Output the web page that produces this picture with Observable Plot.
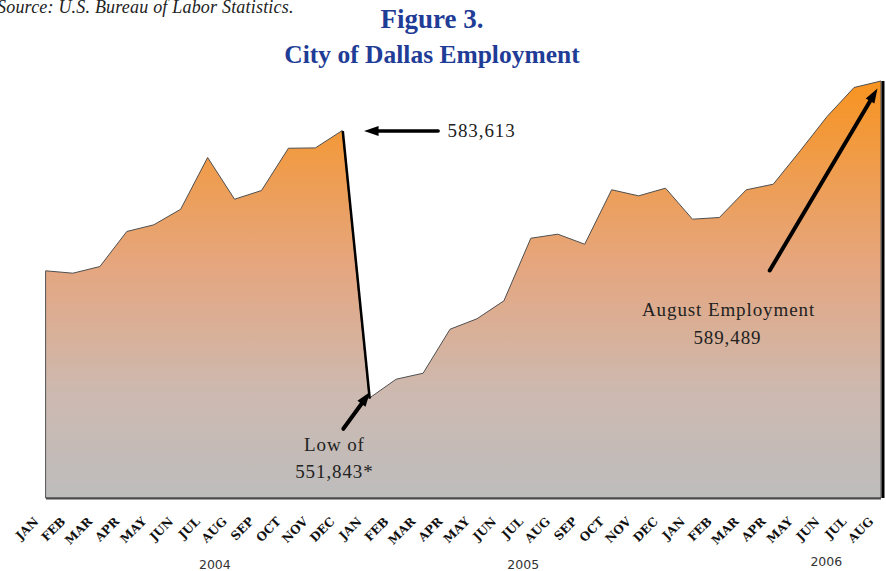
<!DOCTYPE html>
<html>
<head>
<meta charset="utf-8">
<script src="https://cdn.jsdelivr.net/npm/d3@7"></script>
<script src="https://cdn.jsdelivr.net/npm/@observablehq/plot@0.6"></script>
<style>
  html, body { margin: 0; padding: 0; background: #fff; }
  #wrap { width: 886px; height: 571px; overflow: hidden; }
  #header { position: relative; width: 886px; height: 68px; overflow: hidden; }
  #header div { position: absolute; white-space: nowrap; line-height: 1; }
  .title { left: 0; width: 864px; text-align: center; font-family: "Liberation Serif", serif; font-weight: bold; color: #1f3c96; }
  svg { display: block; }
</style>
</head>
<body>
<div id="wrap">
  <div id="header">
    <div id="source" style="left:-3px;top:-3px;font:italic 18px 'Liberation Serif',serif;color:#222;letter-spacing:0.2px">Source: U.S. Bureau of Labor Statistics.</div>
    <div class="title" style="top:6px;font-size:27px">Figure 3.</div>
    <div class="title" style="top:42px;font-size:25.5px">City of Dallas Employment</div>
  </div>
  <div id="chart"></div>
</div>
<script>
// ---- data ----
const months = ["JAN","FEB","MAR","APR","MAY","JUN","JUL","AUG","SEP","OCT","NOV","DEC"];
const years = ["2004", "2005", "2006"];
const employment2004 = [566960, 566680, 567470, 571630, 572420, 574270, 580410, 575460, 576490, 581510, 581550, 583613];
const employment2005 = [551843, 554100, 554810, 560030, 561270, 563400, 570830, 571310, 570120, 576580, 575860, 576770];
const employment2006 = [573090, 573290, 576580, 577240, 581200, 585280, 588720, 589489];
// year label anchor (month index) and level
const yearLabelX = [6.25, 17.7, 28.95];
const yearLabelY = [532050, 532050, 532520];

const series = [employment2004, employment2005, employment2006];
const data = [];
series.forEach((vals, yi) => vals.forEach((v, m) => data.push({i: data.length, month: months[m], year: years[yi], value: v})));

const fmt = d3.format(",");
const peak2004 = data[11];          // Dec 2004
const low2005 = data[12];           // Jan 2005
const last = data[data.length - 1]; // Aug 2006

// annotation geometry in data space (month index, employment)
const arrows = [
  {x1: 14.54, y1: peak2004.value, x2: 12.09, y2: peak2004.value, tx: 11.79, ty: peak2004.value, angle: -90, w: 3.5},
  {x1: 11.02, y1: 548272, x2: 11.84, y2: 551868, tx: 12.01, ty: 552639, angle: 36, w: 4},
  {x1: 26.85, y1: 567059, x2: 30.70, y2: 587840, tx: 30.85, ty: 588659, angle: 30.6, w: 4}
];
const startLabels = [
  {x: 14.89, y: peak2004.value, text: fmt(peak2004.value)}
];
const middleLabels = [
  {x: 10.69, y: 546410, text: "Low of"},
  {x: 10.69, y: 543145, text: fmt(low2005.value) + "*"},
  {x: 25.32, y: 562431, text: "August Employment"},
  {x: 25.28, y: 559107, text: fmt(last.value)}
];

// arrow head symbol with its tip at the origin, pointing up
const arrowHead = {
  draw(context, size) {
    const r = Math.sqrt(size / Math.PI);
    const L = 2.9 * r, w = 2 * r;
    context.moveTo(0, 0);
    context.lineTo(-w / 2, L);
    context.lineTo(w / 2, L);
    context.closePath();
  }
};

const annoText = {fontFamily: "Liberation Serif", fontSize: 19, fill: "#222"};

const svg = Plot.plot({
  width: 886,
  height: 503,
  marginTop: 8.7,
  marginBottom: 73,
  marginLeft: 46,
  marginRight: 5,
  x: {domain: [0, data.length - 1], axis: null},
  y: {domain: [540000, 590000], axis: null},
  style: {background: "transparent", overflow: "visible"},
  marks: [
    Plot.areaY(data, {x: "i", y1: 540000, y2: "value", fill: "url(#empGrad)", stroke: "#4f4f4f", strokeWidth: 1}),
    Plot.ruleY([540000], {stroke: "#4a4a4a", strokeWidth: 2}),
    Plot.ruleX([last], {x: "i", y1: 540000, y2: "value", stroke: "#000", strokeWidth: 3, dx: 1.5}),
    Plot.link([{a: peak2004, b: low2005}], {x1: d => d.a.i, y1: d => d.a.value, x2: d => d.b.i, y2: d => d.b.value, stroke: "#000", strokeWidth: 2.5}),
    Plot.link(arrows, {x1: "x1", y1: "y1", x2: "x2", y2: "y2", stroke: "#000", strokeWidth: "w", strokeLinecap: "round"}),
    Plot.dot(arrows, {x: "tx", y: "ty", symbol: arrowHead, r: 5, rotate: "angle", fill: "#000", stroke: "none"}),
    Plot.text(startLabels, {x: "x", y: "y", text: "text", textAnchor: "start", ...annoText}),
    Plot.text(middleLabels, {x: "x", y: "y", text: "text", textAnchor: "middle", ...annoText}),
    Plot.text(data, {x: "i", y: 540000, text: "month", rotate: -45, textAnchor: "end", dx: -10, dy: 21, fontFamily: "DejaVu Serif", fontWeight: "bold", fontSize: 12, fill: "#111"}),
    Plot.text(years, {x: (d, k) => yearLabelX[k], y: (d, k) => yearLabelY[k], text: d => d, fontFamily: "DejaVu Sans", fontSize: 12.5, fill: "#333"})
  ]
});

// vertical orange-to-grey gradient for the area
const plotTop = 8.7, plotBottom = 430;
const defs = d3.select(svg).insert("defs", ":first-child");
const grad = defs.append("linearGradient")
  .attr("id", "empGrad").attr("gradientUnits", "userSpaceOnUse")
  .attr("x1", 0).attr("x2", 0).attr("y1", plotTop).attr("y2", plotBottom);
[[0, "#f8931e"], [0.45, "#e5a67f"], [0.75, "#cdb9b0"], [1, "#bdbdbd"]].forEach(([o, c]) =>
  grad.append("stop").attr("offset", o).attr("stop-color", c));

const annoStrings = new Set([...startLabels, ...middleLabels].map(d => d.text));
d3.select(svg).selectAll("text")
  .filter(function() { return annoStrings.has(this.textContent); })
  .style("letter-spacing", "0.9px");
// make sure the month labels are rotated 45° like the reference
d3.select(svg).selectAll("text")
  .filter(function() { return months.includes(this.textContent); })
  .each(function() {
    const t = this.getAttribute("transform") || "";
    if (!/rotate/.test(t)) this.setAttribute("transform", t + " rotate(-45)");
  });

document.getElementById("chart").appendChild(svg);
</script>
</body>
</html>
